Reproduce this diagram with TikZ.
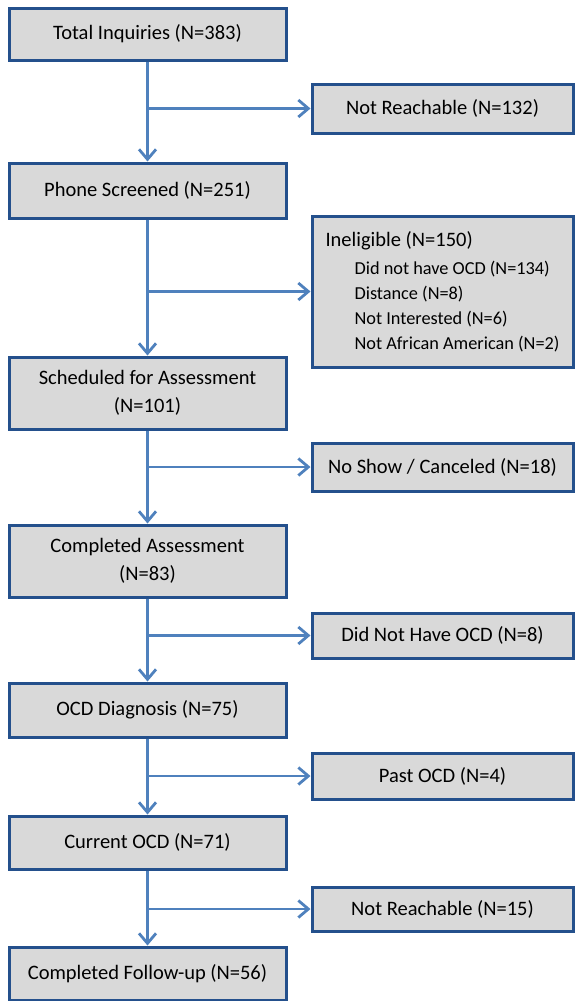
\documentclass[tikz,border=0pt]{standalone}
\usepackage{fontspec}
\setmainfont{Carlito}
\usetikzlibrary{arrows.meta}

\definecolor{boxfill}{RGB}{217,217,217}
\definecolor{boxline}{RGB}{36,80,140}
\definecolor{flowblue}{RGB}{79,129,189}

\newcommand\inelitem{\hspace*{29pt}\fontsize{18.3}{25}\selectfont}

\begin{document}
\begin{tikzpicture}[x=1pt, y=-1pt,
    lbox/.style={draw=boxline, fill=boxfill, line width=3pt, minimum width=277pt,
        inner sep=0pt, align=center, font=\fontsize{20.5}{28.5}\selectfont},
    rbox/.style={lbox, minimum width=261pt},
    flowarr/.style={draw=flowblue, line width=2.8pt, -{Straight Barb[length=10pt,width=17pt]}}]

    \useasboundingbox (0,0) rectangle (574,1001);

    % main column
    \node[lbox, minimum height=52pt] (total) at (147.5,34) {Total Inquiries (N=383)};
    \node[lbox, minimum height=55pt] (phone) at (147.5,190.5) {Phone Screened (N=251)};
    \node[lbox, minimum height=72pt] (sched) at (147.5,393) {Scheduled for Assessment\\(N=101)};
    \node[lbox, minimum height=72pt] (assess) at (147.5,561) {Completed Assessment\\(N=83)};
    \node[lbox, minimum height=54pt] (diag) at (147.5,710) {OCD Diagnosis (N=75)};
    \node[lbox, minimum height=53pt] (current) at (147.5,842.5) {Current OCD (N=71)};
    \node[lbox, minimum height=53pt] (followup) at (147.5,973.5) {Completed Follow-up (N=56)};

    % excluded
    \node[rbox, minimum height=49pt] (unreach) at (442.5,108.5) {Not Reachable (N=132)};
    \node[rbox, minimum height=151pt, align=left, font=\fontsize{20.5}{25}\selectfont] (inelig) at (442.5,291.5)
        {Ineligible (N=150)\\[3pt]
         \inelitem Did not have OCD (N=134)\\
         \inelitem Distance (N=8)\\
         \inelitem Not Interested (N=6)\\
         \inelitem Not African American (N=2)};
    \node[rbox, minimum height=48pt] (noshow) at (442.5,467) {No Show / Canceled (N=18)};
    \node[rbox, minimum height=45pt] (noocd) at (442.5,635.5) {Did Not Have OCD (N=8)};
    \node[rbox, minimum height=46pt] (past) at (442.5,776) {Past OCD (N=4)};
    \node[rbox, minimum height=44pt] (unreachfu) at (442.5,909) {Not Reachable (N=15)};

    \foreach \from/\to/\out in {total/phone/unreach, phone/sched/inelig, sched/assess/noshow,
                                assess/diag/noocd, diag/current/past, current/followup/unreachfu} {
        \draw[flowarr] (\from) -- (\to);
        \draw[flowarr] (\from |- \out) -- (\out);
    }

\end{tikzpicture}
\end{document}
